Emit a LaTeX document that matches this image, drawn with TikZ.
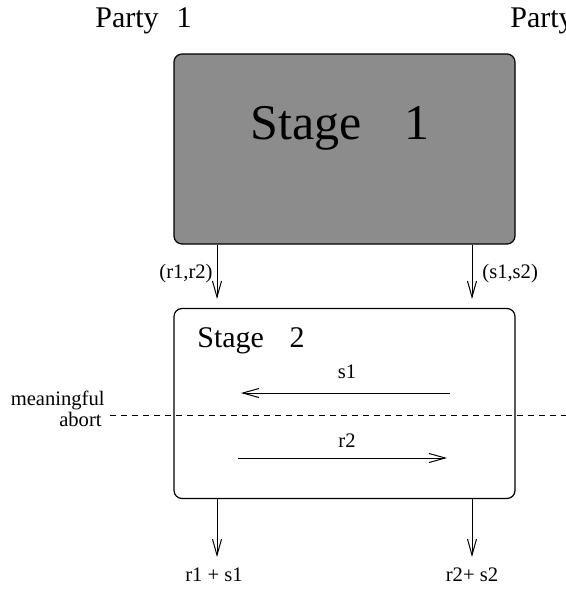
\documentclass[tikz,border=0pt]{standalone}
\usepackage{fontspec}
\setmainfont{Liberation Serif}
\usetikzlibrary{arrows.meta}
\definecolor{stagegray}{HTML}{8C8C8C}
\tikzset{
  stagebox/.style={draw, rounded corners=4pt, line width=0.6pt,
    minimum width=170.5pt, minimum height=95pt, inner sep=0pt},
  msg/.style={-{Straight Barb[length=8pt,width=4.5pt]}, line width=0.5pt},
  lbl/.style={font=\fontsize{10.3}{12}\selectfont, inner sep=0pt},
  party/.style={font=\fontsize{15}{18}\selectfont, inner sep=0pt, anchor=base west},
}

\begin{document}
\begin{tikzpicture}[x=0.5pt,y=-0.5pt]
\clip (0,0) rectangle (566,590);
% parties
\node[party] (party1) at (95,27) {Party\hspace{0.6em}1};
\node[party] (party2) at (510,27) {Party\hspace{0.6em}2};
% stages
\node[stagebox, fill=stagegray] (stage1) at (344.5,149) {};
\node[anchor=base west, font=\fontsize{25}{30}\selectfont, inner sep=0pt] (stage1txt) at (250,139) {Stage\hspace{0.85em}1};
\node[stagebox] (stage2) at (344.5,403.5) {};
\node[anchor=base west, font=\fontsize{15}{18}\selectfont, inner sep=0pt] (stage2txt) at (197,347) {Stage\hspace{0.85em}2};
% columns of the two parties
\coordinate (col1) at (217,0);
\coordinate (col2) at (472,0);
\draw[msg, shorten >=4.5pt] (stage1.south -| col1) -- (stage2.north -| col1);
\draw[msg, shorten >=4.5pt] (stage1.south -| col2) -- (stage2.north -| col2);
\node[lbl, anchor=base east] (keys1) at (213,278) {(r1,r2)};
\node[lbl, anchor=base west] (keys2) at (482,278) {(s1,s2)};
% messages in stage 2
\coordinate (s1from) at (450,393);
\coordinate (s1to) at (241,393);
\coordinate (r2from) at (238,458);
\coordinate (r2to) at (447,458);
\draw[msg] (s1from) -- (s1to);
\draw[msg] (r2from) -- (r2to);
\node[lbl, anchor=base] (s1lbl) at (347,378) {s1};
\node[lbl, anchor=base] (r2lbl) at (347,447) {r2};
% abort line
\node[lbl, anchor=base east] (meaning) at (105,405) {meaningful};
\node[lbl, anchor=base east] (abort) at (102,426) {abort};
\coordinate (abortL) at (110,415);
\coordinate (abortR) at (566,415);
\draw[dash pattern=on 3pt off 2.5pt, line width=0.5pt] (abortL) -- (abortR);
% outputs
\node[lbl, anchor=base] (out1) at (214,581) {r1 + s1};
\node[lbl, anchor=base] (out2) at (472,581) {r2+ s2};
\draw[msg, shorten >=5pt] (stage2.south -| col1) -- (out1.north -| col1);
\draw[msg, shorten >=5pt] (stage2.south -| col2) -- (out2.north -| col2);
\end{tikzpicture}
\end{document}
